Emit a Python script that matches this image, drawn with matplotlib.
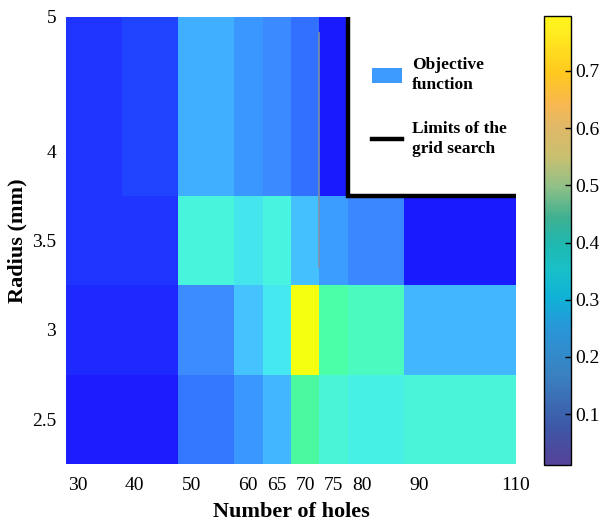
import numpy as np
import matplotlib
matplotlib.use("Agg")
import matplotlib.pyplot as plt
from matplotlib.colors import LinearSegmentedColormap, Normalize
from matplotlib.patches import Patch
from matplotlib.lines import Line2D
import matplotlib.cm as cm

plt.rcParams['font.family'] = ['Liberation Serif', 'DejaVu Serif']

# ---------------- data ----------------
# cell edges (number of holes, radius in mm)
x_edges = [28, 37.8, 47.6, 57.5, 62.5, 67.5, 72.5, 77.5, 87.3, 107]
y_edges = [2.25, 2.75, 3.25, 3.75, 4.75]

# objective function values, rows bottom -> top
row_r25 = [0.030, 0.030, 0.140, 0.200, 0.250, 0.500, 0.420, 0.380, 0.410]
row_r30 = [0.050, 0.050, 0.180, 0.280, 0.350, 0.780, 0.480, 0.450, 0.250]
row_r35 = [0.060, 0.060, 0.400, 0.340, 0.390, 0.270, 0.210, 0.170, 0.020]
row_r40 = [0.060, 0.080, 0.240, 0.200, 0.175, 0.130, 0.020, np.nan, np.nan]

xtick_pos = [30, 40, 50, 60, 65, 70, 75, 80, 90, 107]
xtick_labels = ['30', '40', '50', '60', '65', '70', '75', '80', '90', '110']
ytick_pos = [2.5, 3, 3.5, 4, 4.75]
ytick_labels = ['2.5', '3', '3.5', '4', '5']

# limits of the grid search
limit_x = [77.5, 77.5, 107]
limit_y = [4.75, 3.75, 3.75]

# faint vertical artifact line
artifact_x = [72.35, 72.35]
artifact_y = [4.66, 3.35]

cbar_min, cbar_max = 0.011, 0.796
cbar_ticks = [0.1, 0.2, 0.3, 0.4, 0.5, 0.6, 0.7]

# ---------------- colormaps ----------------
cell_stops = [
    (0.00, '#1818ff'), (0.02, '#1a1aff'), (0.03, '#1c1cff'), (0.05, '#1e2aff'),
    (0.06, '#2136ff'), (0.08, '#2043ff'), (0.13, '#3372ff'), (0.14, '#3478ff'),
    (0.17, '#3a88ff'), (0.18, '#3d8cff'), (0.20, '#3a98ff'), (0.24, '#40b0ff'),
    (0.27, '#45c0ff'), (0.28, '#45c4ff'), (0.34, '#45e5ee'), (0.35, '#45e8f0'),
    (0.39, '#48f3e0'), (0.42, '#4af5d6'), (0.48, '#4affa8'), (0.50, '#48f8a0'),
    (0.78, '#f5ff10')]
vmax_cells = 0.78
cell_cmap = LinearSegmentedColormap.from_list(
    'cells', [(v / vmax_cells, c) for v, c in cell_stops])
cell_cmap.set_bad('white')

bar_stops = [
    (0.011, '#55459a'), (0.025, '#50479a'), (0.078, '#3d58a8'), (0.165, '#3a80c0'),
    (0.253, '#2898d8'), (0.300, '#10b0d8'), (0.352, '#18c0c8'), (0.399, '#20b8b0'),
    (0.445, '#40b090'), (0.498, '#90c088'), (0.550, '#c8c070'), (0.603, '#e0b868'),
    (0.643, '#f8b850'), (0.696, '#ffc820'), (0.777, '#fff020'), (0.796, '#fff418')]
bar_cmap = LinearSegmentedColormap.from_list(
    'bar', [((v - cbar_min) / (cbar_max - cbar_min), c) for v, c in bar_stops])

# ---------------- figure ----------------
fig = plt.figure(figsize=(6.02, 5.21), dpi=100)
ax = fig.add_axes([66 / 602, 1 - 464 / 521, 450 / 602, 447 / 521])

Z = np.ma.masked_invalid(np.array([row_r25, row_r30, row_r35, row_r40]))
ax.pcolormesh(x_edges, y_edges, Z, cmap=cell_cmap, vmin=0, vmax=vmax_cells,
              shading='flat', edgecolors='none')

ax.plot(artifact_x, artifact_y, color='#8090a8', lw=1.2, zorder=3)
ax.plot(limit_x, limit_y, color='black', lw=3.2, solid_capstyle='butt',
        solid_joinstyle='miter', zorder=4, clip_on=False)

ax.set_xlim(x_edges[0], x_edges[-1])
ax.set_ylim(y_edges[0], y_edges[-1])
ax.set_xticks(xtick_pos)
ax.set_xticklabels(xtick_labels)
ax.set_yticks(ytick_pos)
ax.set_yticklabels(ytick_labels)
ax.tick_params(length=0, labelsize=14)
ax.tick_params(axis='x', pad=9)
ax.tick_params(axis='y', pad=7)
for s in ax.spines.values():
    s.set_visible(False)

ax.set_xlabel('Number of holes', fontsize=16, fontweight='bold', labelpad=6)
ax.set_ylabel('Radius (mm)', fontsize=16, fontweight='bold', labelpad=3)

handles = [Patch(facecolor='#3d9bff', edgecolor='none'),
           Line2D([0], [0], color='black', lw=3.2)]
leg = ax.legend(handles, ['Objective\nfunction', 'Limits of the\ngrid search'],
                loc='upper left', bbox_to_anchor=(0.68, 0.91), frameon=False,
                prop={'weight': 'bold', 'size': 12.5}, handlelength=1.7,
                handleheight=0.95, handletextpad=0.6, labelspacing=1.6,
                borderpad=0, borderaxespad=0)
for t in leg.get_texts():
    t.set_linespacing(1.35)

# colorbar
cax = fig.add_axes([544 / 602, 1 - 465 / 521, 27 / 602, 449 / 521])
sm = cm.ScalarMappable(norm=Normalize(cbar_min, cbar_max), cmap=bar_cmap)
cb = fig.colorbar(sm, cax=cax, ticks=cbar_ticks)
cb.ax.tick_params(direction='in', length=4, width=1, labelsize=14, pad=3)
cb.outline.set_linewidth(1)
cb.ax.set_yticklabels([f'{t:.1f}' for t in cbar_ticks])

fig.savefig('out.png', dpi=100)
